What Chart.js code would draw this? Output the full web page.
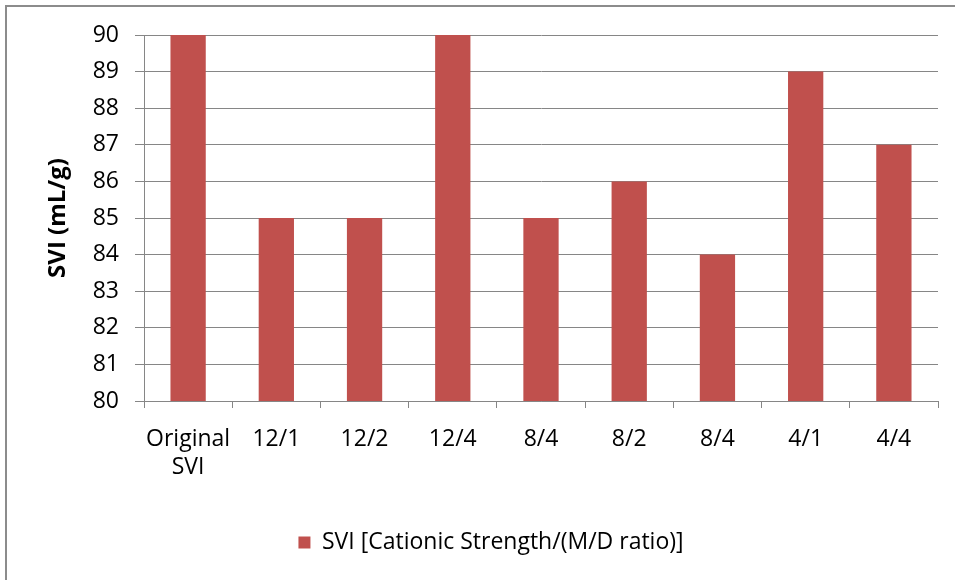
<!DOCTYPE html>
<html>
<head>
<meta charset="utf-8">
<script src="https://cdn.jsdelivr.net/npm/chart.js@4"></script>
<style>
  html, body { margin: 0; padding: 0; background: #fff; }
  #frame {
    position: absolute; left: 5px; top: 5px; width: 960px; height: 590px;
    border-top: 2px solid #8c8c8c; border-left: 2px solid #8c8c8c;
  }
  #wrap { position: absolute; left: 0; top: 0; width: 955px; height: 580px; }
</style>
</head>
<body>
<div id="frame"></div>
<div id="wrap"><canvas id="sviChart" width="955" height="580"></canvas></div>
<script>
/* data */
const categories = [["Original", "SVI"], "12/1", "12/2", "12/4", "8/4", "8/2", "8/4", "4/1", "4/4"];
const sviValues = [90, 85, 85, 90, 85, 86, 84, 89, 87];
const seriesName = "SVI [Cationic Strength/(M/D ratio)]";
const yTitle = "SVI (mL/g)";
const yMin = 80;
const yMax = 90;

const font = "Open Sans";
const gridColor = "#868686";

Chart.defaults.font.family = font;
Chart.defaults.color = "#000";

let svi = document.getElementById("sviChart").getContext("2d");

let sviChart = new Chart(svi, {
  type: "bar",
  data: {
    labels: categories,
    datasets: [
      {
        label: seriesName,
        data: sviValues,
        backgroundColor: "#C0504D",
        borderWidth: 0,
        barPercentage: 0.4,
        categoryPercentage: 1,
      },
    ],
  },
  options: {
    responsive: false,
    animation: false,
    maintainAspectRatio: false,
    layout: { padding: { top: 35, right: 17, left: 44, bottom: 16 } },
    plugins: {
      tooltip: { enabled: false },
      legend: {
        position: "bottom",
        labels: {
          boxWidth: 12,
          boxHeight: 12,
          padding: 24,
          font: { size: 23 },
          color: "#000",
        },
      },
    },
    scales: {
      x: {
        grid: {
          drawOnChartArea: false,
          drawTicks: true,
          tickLength: 7,
          color: gridColor,
          offset: true,
        },
        border: { color: gridColor, width: 1 },
        ticks: { font: { size: 23 }, padding: 18, maxRotation: 0, color: "#000" },
        afterFit: (axis) => {
          axis.height = 106;
        },
      },
      y: {
        min: yMin,
        max: yMax,
        ticks: { stepSize: 1, font: { size: 23 }, padding: 16, color: "#000" },
        grid: { color: gridColor, tickLength: 9 },
        border: { color: gridColor, width: 1 },
        title: {
          display: true,
          text: yTitle,
          font: { size: 24, weight: "bold" },
          color: "#000",
          padding: { top: 0, bottom: 10 },
        },
        afterFit: (axis) => {
          axis.width = 100;
        },
      },
    },
  },
});
</script>
</body>
</html>
